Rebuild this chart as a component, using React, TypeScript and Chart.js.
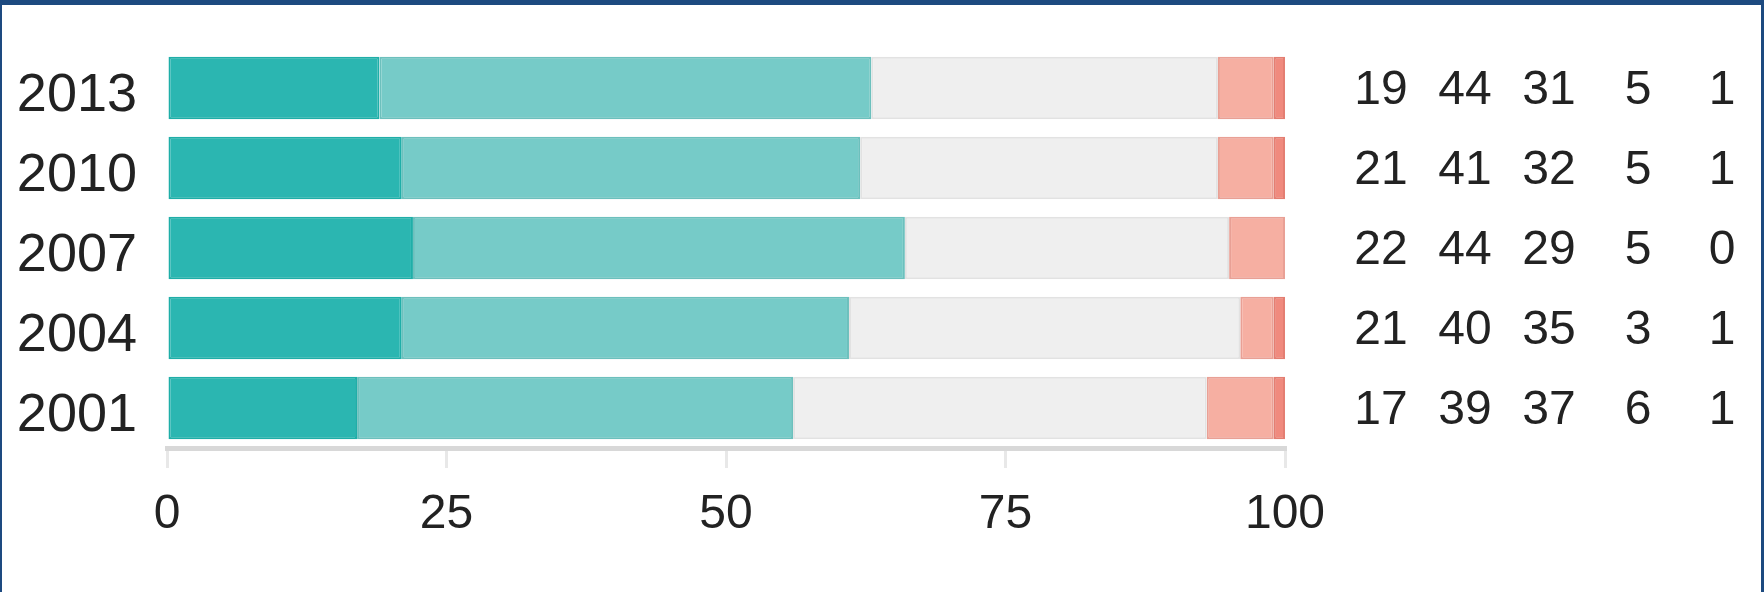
import React, { useEffect, useRef } from "react";
import { Chart, registerables } from "chart.js";

Chart.register(...registerables);

const years = ["2013", "2010", "2007", "2004", "2001"];
const seriesA = [19, 21, 22, 21, 17];
const seriesB = [44, 41, 44, 40, 39];
const seriesC = [31, 32, 29, 35, 37];
const seriesD = [5, 5, 5, 3, 6];
const seriesE = [1, 1, 0, 1, 1];
const xTicks = [0, 25, 50, 75, 100];

const fills = ["#2bb6b1", "#76cbc8", "#efefef", "#f6afa2", "#f08a7e"];
const borders = ["#1faea8", "#6cc0bd", "#e2e2e2", "#e9a095", "#e47e72"];
const columnOffsets = [96, 180, 264, 353, 437];
const FONT = "'Liberation Sans', Arial, Helvetica, sans-serif";

const sideNumbers = {
  id: "sideNumbers",
  afterDraw(chart: any) {
    const { ctx, chartArea, scales } = chart;
    ctx.save();
    ctx.fillStyle = "#222";
    ctx.font = `48px ${FONT}`;
    ctx.textAlign = "center";
    ctx.textBaseline = "middle";
    chart.data.datasets.forEach((ds: any, i: number) => {
      ds.data.forEach((v: number, j: number) => {
        const y = scales.y.getPixelForValue(j) + 3;
        ctx.fillText(String(v), chartArea.right + columnOffsets[i], y);
      });
    });
    ctx.restore();
  },
};

export default function App() {
  const ref = useRef<HTMLCanvasElement | null>(null);
  useEffect(() => {
    if (!ref.current) return;
    const all = [seriesA, seriesB, seriesC, seriesD, seriesE];
    const chart = new Chart(ref.current, {
      type: "bar",
      data: {
        labels: years,
        datasets: all.map((d, i) => ({
          label: `s${i}`,
          data: d,
          backgroundColor: fills[i],
          borderColor: borders[i],
          borderWidth: 2,
          borderSkipped: false,
          categoryPercentage: 1,
          barPercentage: 0.78,
        })),
      },
      options: {
        indexAxis: "y",
        responsive: false,
        animation: false,
        maintainAspectRatio: false,
        layout: { padding: { left: 0, top: 48, right: 479, bottom: 0 } },
        plugins: { legend: { display: false }, tooltip: { enabled: false } },
        scales: {
          x: {
            stacked: true,
            min: 0,
            max: 100,
            afterBuildTicks: (s: any) => {
              s.ticks = xTicks.map((v) => ({ value: v }));
            },
            afterFit: (s: any) => {
              s.height = 144;
              s.paddingLeft = 0;
              s.paddingRight = 0;
            },
            ticks: {
              color: "#222",
              font: { family: FONT, size: 48 },
              padding: 18,
              maxRotation: 0,
            },
            grid: {
              drawOnChartArea: false,
              drawTicks: true,
              tickLength: 20,
              color: "#e8e8e8",
              lineWidth: 3,
            },
            border: { display: true, color: "#d8d8d8", width: 5 },
          },
          y: {
            stacked: true,
            afterFit: (s: any) => {
              s.width = 167;
              s.paddingTop = 0;
              s.paddingBottom = 0;
            },
            ticks: {
              color: "#222",
              font: { family: FONT, size: 54 },
              padding: 30,
              labelOffset: 8,
            },
            grid: { display: false, drawTicks: false },
            border: { display: false },
          },
        },
      },
      plugins: [sideNumbers],
    });
    return () => chart.destroy();
  }, []);

  return (
    <div
      style={{
        position: "fixed",
        left: 0,
        top: 0,
        width: 1764,
        height: 592,
        boxSizing: "border-box",
        borderTop: "5px solid #1d4a80",
        borderLeft: "2px solid #1d4a80",
        borderRight: "3px solid #1d4a80",
        background: "#fff",
      }}
    >
      <canvas
        ref={ref}
        width={1764}
        height={592}
        style={{ position: "absolute", left: -2, top: -5, width: 1764, height: 592 }}
      />
    </div>
  );
}
